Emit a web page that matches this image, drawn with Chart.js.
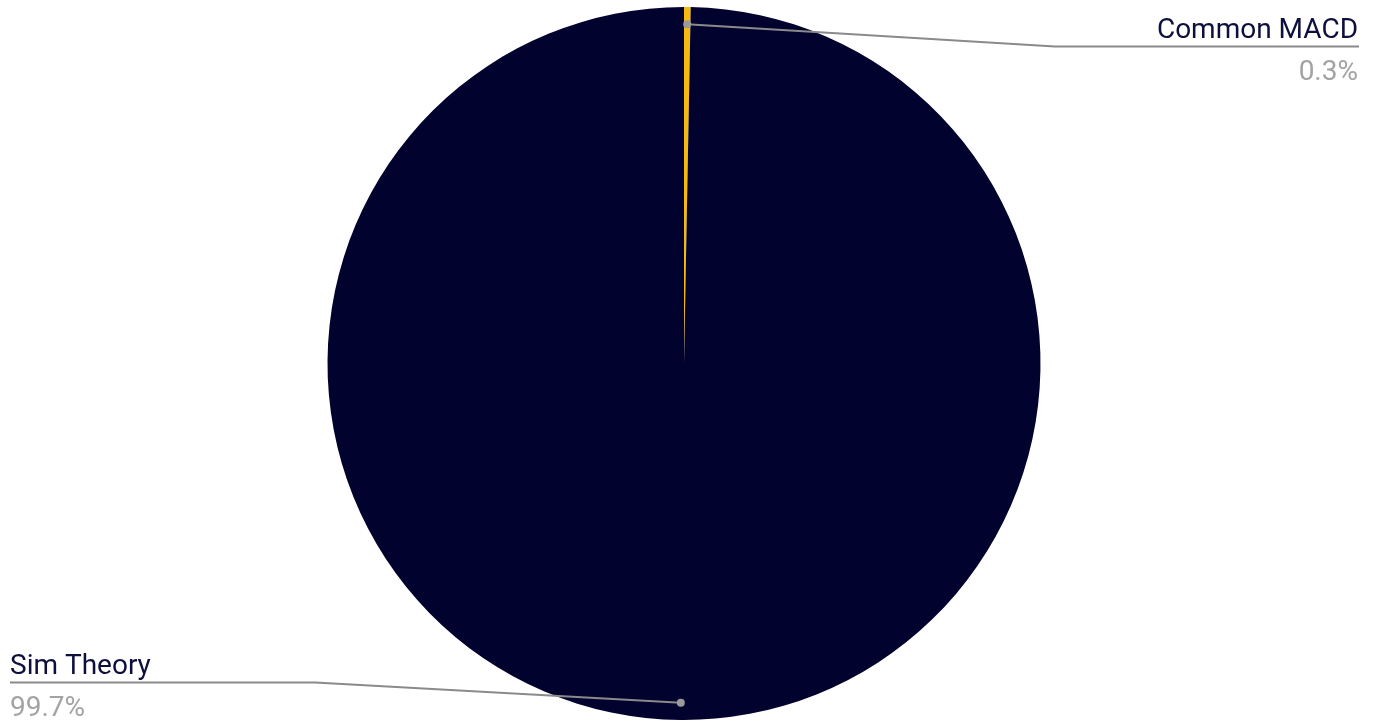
<!DOCTYPE html>
<html>
<head>
<meta charset="utf-8">
<script src="https://cdn.jsdelivr.net/npm/chart.js@4.4.0/dist/chart.umd.min.js"></script>
<style>
  html, body { margin: 0; padding: 0; background: #fff; }
  #wrap { width: 1379px; height: 726px; position: relative; }
</style>
</head>
<body>
<div id="wrap"><canvas id="pieChart"></canvas></div>
<script>
const labels = ['Common MACD', 'Sim Theory'];
const values = [0.3, 99.7];
const colors = ['#f5b90f', '#02022e'];

// leader lines + labels drawn after the pie
const calloutPlugin = {
    id: 'callouts',
    afterDraw(chart) {
        const ctx = chart.ctx;
        const meta = chart.getDatasetMeta(0);
        const total = values.reduce((a, b) => a + b, 0);
        const W = chart.width;
        meta.data.forEach((arc, i) => {
            const p = arc.getProps(['x', 'y', 'startAngle', 'endAngle', 'outerRadius'], true);
            const mid = (p.startAngle + p.endAngle) / 2;
            const r = p.outerRadius * 0.952;
            const dx = p.x + Math.cos(mid) * r;
            const dy = p.y + Math.sin(mid) * r;
            const right = Math.cos(mid) >= 0;
            const lineY = Math.sin(mid) < 0 ? 46.5 : 682.5;
            const endX = right ? W - 20 : 10;
            const elbowX = right ? endX - 304 : endX + 305;

            ctx.save();
            ctx.strokeStyle = '#8a8a8a';
            ctx.lineWidth = 2;
            ctx.beginPath();
            ctx.moveTo(dx, dy);
            ctx.lineTo(elbowX, lineY);
            ctx.lineTo(endX, lineY);
            ctx.stroke();

            ctx.fillStyle = '#9a9a9a';
            ctx.beginPath();
            ctx.arc(dx, dy, 4, 0, Math.PI * 2);
            ctx.fill();

            ctx.textAlign = right ? 'right' : 'left';
            ctx.textBaseline = 'alphabetic';
            ctx.font = '28px Roboto';
            ctx.fillStyle = '#0f0f3d';
            ctx.fillText(labels[i], endX - (right ? 1 : 0), lineY - 9);
            ctx.fillStyle = '#a3a3a3';
            const pct = (values[i] / total * 100).toFixed(1) + '%';
            ctx.fillText(pct, endX - (right ? 1 : 0), lineY + 33);
            ctx.restore();
        });
    }
};

new Chart(document.getElementById('pieChart'), {
    type: 'pie',
    data: {
        labels: labels,
        datasets: [{
            data: values,
            backgroundColor: colors,
            borderWidth: 0
        }]
    },
    options: {
        responsive: true,
        maintainAspectRatio: false,
        animation: false,
        layout: { padding: { top: 7, bottom: 6, left: 0, right: 11 } },
        plugins: {
            legend: { display: false },
            tooltip: { enabled: false }
        }
    },
    plugins: [calloutPlugin]
});
</script>
</body>
</html>
